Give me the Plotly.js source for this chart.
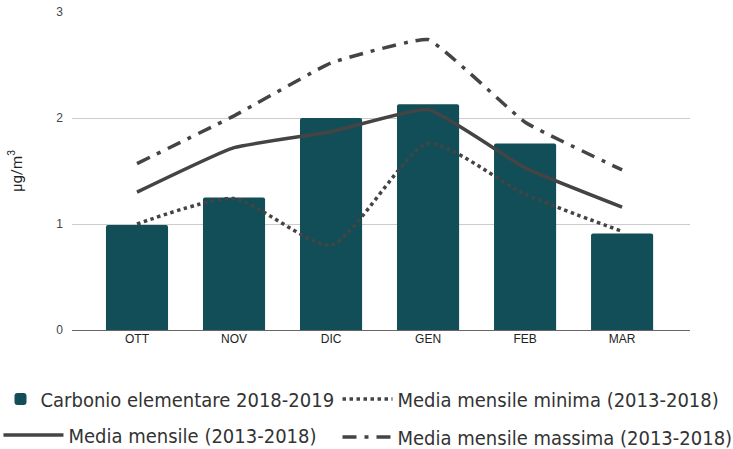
<!DOCTYPE html>
<html>
<head>
<meta charset="utf-8">
<script src="https://cdn.plot.ly/plotly-3.0.1.min.js"></script>
<style>html,body{margin:0;padding:0;background:#fff;}#chart{width:733px;height:449px;}</style>
</head>
<body>
<div id="chart"></div>
<script>
const months = ["OTT", "NOV", "DIC", "GEN", "FEB", "MAR"];
const carbonio = [0.99, 1.25, 2.0, 2.13, 1.76, 0.91];
const mediaMensile = [1.30, 1.72, 1.87, 2.08, 1.53, 1.16];
const mediaMinima = [1.0, 1.24, 0.80, 1.76, 1.28, 0.93];
const mediaMassima = [1.57, 2.02, 2.52, 2.74, 1.96, 1.51];
const yTicks = [0, 1, 2, 3];

const lineColor = "#444444";
const traces = [
  {type: "bar", x: months, y: carbonio, name: "Carbonio elementare 2018-2019",
   marker: {color: "#124e57", cornerradius: 2}, width: 0.64, legend: "legend", legendgroup: "a"},
  {type: "scatter", mode: "lines", x: months, y: mediaMensile, name: "Media mensile (2013-2018)",
   line: {color: lineColor, width: 3.5, shape: "spline", smoothing: 0.4}, legend: "legend3", legendgroup: "b"},
  {type: "scatter", mode: "lines", x: months, y: mediaMinima, name: "Media mensile minima (2013-2018)",
   line: {color: lineColor, width: 3.5, dash: "dot", shape: "spline", smoothing: 0.6}, legend: "legend2", legendgroup: "c"},
  {type: "scatter", mode: "lines", x: months, y: mediaMassima, name: "Media mensile massima (2013-2018)",
   line: {color: lineColor, width: 3.5, dash: "14px,8px,4px,8px", shape: "spline", smoothing: 0.3}, legend: "legend2", legendgroup: "d"}
];

const legendFont = {family: "DejaVu Sans Condensed, Liberation Sans Narrow, sans-serif", size: 20, color: "#333"};
const legBase = {orientation: "v", xanchor: "left", yanchor: "top", tracegroupgap: 9,
                 traceorder: "grouped", font: legendFont, bgcolor: "rgba(0,0,0,0)"};
const layout = {
  width: 733, height: 449,
  margin: {l: 72, r: 43, t: 12, b: 119, autoexpand: false},
  paper_bgcolor: "#fff", plot_bgcolor: "#fff",
  showlegend: true,
  font: {family: "Roboto, Arial, sans-serif", color: "#333"},
  xaxis: {range: [-0.67, 5.7], showgrid: false, ticks: "", showline: false, zeroline: false,
          tickfont: {family: "Liberation Sans, Arial", size: 12, color: "#222"}},
  yaxis: {range: [0, 3], tickvals: yTicks, ticktext: yTicks.map(String), showgrid: true, gridcolor: "#cccccc",
          zeroline: true, zerolinecolor: "#666", zerolinewidth: 1, ticks: "", ticklabelstandoff: 8,
          tickfont: {family: "Liberation Sans, Arial", size: 12, color: "#444"},
          title: {text: "µg/m<sup>3</sup>", font: {family: "Roboto, Arial", size: 15, color: "#222"}, standoff: 30}},
  legend: Object.assign({}, legBase, {x: -0.1157, y: -0.156, itemwidth: 30}),
  legend3: Object.assign({}, legBase, {x: -0.119, y: -0.269, itemwidth: 60}),
  legend2: Object.assign({}, legBase, {x: 0.4296, y: -0.156, itemwidth: 50}),
  bargap: 0.36
};

Plotly.newPlot("chart", traces, layout, {displayModeBar: false, staticPlot: true});
</script>
</body>
</html>
